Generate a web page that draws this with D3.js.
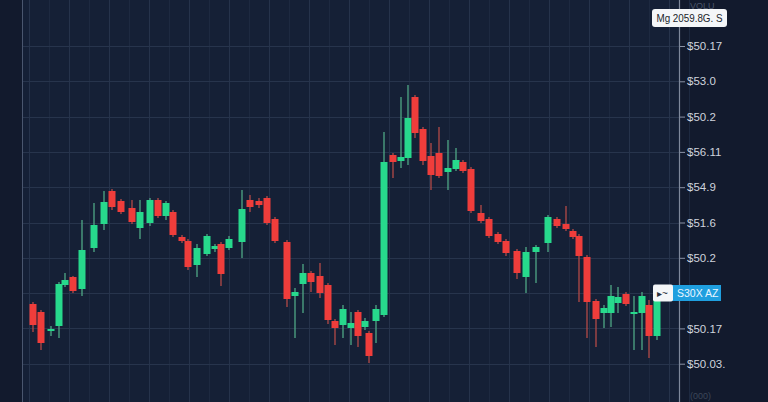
<!DOCTYPE html>
<html><head><meta charset="utf-8">
<script src="https://cdn.jsdelivr.net/npm/d3@7"></script>
<style>
html,body{margin:0;padding:0;background:#121a2d;overflow:hidden;}
svg{display:block;}
</style></head>
<body>
<script>
// ---- data ----
const times = [0,4,9,13,16,20,24.5,30.5,35.5,39.5,44,49.5,53.5,58.5,62.5,66.5,70,74.5,77.5,82,87,91,94,98,104.5,108.5,113,117,121,127,131,135,139,143.5,147.5,151,155,159,162.5,166,168,171.5,175.5,180,184,187.5,191,195,199,203,207.5,211.5,215,219,224,228,232.5,236.5,242,246.5,251.5,257.5,262,266.5,270,273,277,281.5,285.5,289,292.5,296.5,300.5,304.5,308,312];
const opens = [54.80,54.40,53.45,53.70,55.75,56.15,55.55,57.60,58.80,60.45,59.95,59.60,58.60,58.85,60.00,59.20,59.40,58.15,57.95,56.75,57.30,57.55,57.80,57.60,57.90,60.00,59.95,60.10,59.05,57.90,55.20,55.80,56.35,56.20,55.75,53.95,53.75,53.60,54.40,53.65,53.35,53.95,54.25,62.25,61.95,62.10,65.15,63.55,62.20,62.35,61.40,61.55,61.90,61.55,59.35,59.05,58.30,57.95,57.45,56.15,57.40,57.85,59.05,58.80,58.45,58.20,57.15,54.95,54.35,54.35,54.85,55.30,54.35,54.35,54.75,53.20];
const closes = [53.75,52.85,53.55,55.80,56.00,55.45,57.50,58.75,59.90,59.65,59.40,58.90,59.40,60.00,59.20,59.85,58.25,57.95,56.65,57.60,58.20,57.70,56.30,58.05,59.55,59.65,59.75,58.85,57.95,55.05,55.40,56.35,55.90,55.35,54.00,53.60,54.55,53.85,53.20,53.95,52.20,54.55,61.90,61.90,62.15,64.10,63.35,61.95,61.25,61.20,61.60,62.00,61.45,59.45,58.95,58.20,57.90,57.35,56.35,57.40,57.65,59.15,58.70,58.55,58.15,57.20,54.90,54.05,54.60,55.20,55.15,54.80,54.40,55.20,53.20,55.25];
const highs = [54.90,54.50,53.70,55.90,56.35,56.20,59.00,59.85,60.45,60.55,60.05,60.00,60.00,60.10,60.10,59.95,59.50,58.25,58.05,57.80,58.30,57.80,57.90,58.20,60.50,60.25,60.10,60.20,59.15,58.00,55.60,56.80,56.45,56.85,55.85,54.05,54.75,54.40,54.50,54.10,53.45,54.75,63.40,62.35,65.15,65.75,65.25,63.65,62.85,63.65,63.00,62.60,62.00,61.65,59.75,59.15,58.40,58.05,57.55,57.65,57.75,59.25,59.15,59.70,58.55,58.30,57.25,55.05,54.75,55.75,55.65,55.40,55.20,55.40,55.00,55.50];
const lows = [53.40,52.50,53.20,53.10,55.65,55.35,55.20,57.40,58.50,59.50,59.30,58.80,58.05,58.70,59.10,59.00,58.15,57.85,56.50,56.15,57.20,57.40,55.70,57.50,57.10,59.40,59.60,58.75,57.85,54.65,53.10,54.35,55.40,55.10,53.80,52.75,53.10,52.75,52.65,53.50,51.85,52.85,54.15,61.10,61.60,61.75,63.10,61.75,60.50,61.10,60.50,61.45,61.35,59.35,58.85,58.10,57.80,57.20,56.05,55.35,55.85,57.40,58.60,58.45,58.05,54.90,53.10,52.65,53.60,53.65,54.35,54.70,52.50,52.50,52.10,53.00];

const tickValues = [67.70,65.935,64.17,62.405,60.64,58.875,57.11,55.345,53.58,51.815];
// the label at the 8th tick is hidden behind the last-price badge in the picture
const tickLabels = ["$50.17","$53.0","$50.2","$56.11","$54.9","$51.6","$50.2","","$50.17","$50.03."];

const topBadgeText = "Mg  2059.8G. S";
const lastBadgeText = "S30X  AZ";
const lastBadgeValue = 55.35;
const axisTitle = "VOLU";
const axisFooter = "(000)";

// ---- drawing ----
const W = 768, H = 402;
const plotLeft = 22, axisX = 679;
const svg = d3.select("body").append("svg").attr("width", W).attr("height", H);

const x = d3.scaleLinear().domain([0, 312]).range([33, 657]);
const y = d3.scaleLinear().domain([50, 70]).range([400, 0]);

svg.append("rect").attr("x",0).attr("y",0).attr("width",W).attr("height",H).attr("fill","#121a2d");
svg.append("rect").attr("x",plotLeft).attr("y",0).attr("width",axisX-plotLeft).attr("height",H).attr("fill","#152036");

// vertical grid
const gMinor = d3.range(-2, 330, 10);
svg.append("g").selectAll("line").data(gMinor).join("line")
  .attr("x1", d=>x(d)).attr("x2", d=>x(d)).attr("y1",0).attr("y2",H)
  .attr("stroke", (d,i)=> i%2===0 ? "#26334b" : "#1d2940").attr("stroke-width",1)
  .attr("shape-rendering","crispEdges");

// horizontal grid
svg.append("g").selectAll("line").data(tickValues).join("line")
  .attr("x1", plotLeft).attr("x2", axisX).attr("y1", d=>Math.round(y(d))+0.5).attr("y2", d=>Math.round(y(d))+0.5)
  .attr("stroke","#27344c").attr("stroke-width",1);

// left border
svg.append("line").attr("x1",plotLeft+0.5).attr("x2",plotLeft+0.5).attr("y1",0).attr("y2",H)
  .attr("stroke","#4a566e").attr("stroke-width",1);

// candles
const data = times.map((t,i)=>({t, o:opens[i], c:closes[i], h:highs[i], l:lows[i]}));
const up = "#27d98c", down = "#ef3d3b";
const bw = 7;
const cg = svg.append("g");
cg.selectAll("line.wick").data(data).join("line").attr("class","wick")
  .attr("x1", d=>x(d.t)).attr("x2", d=>x(d.t))
  .attr("y1", d=>y(d.h)).attr("y2", d=>y(d.l))
  .attr("stroke", d=> d.c>=d.o ? "#4fa886" : "#b44a48").attr("stroke-width",1.3);
cg.selectAll("rect.body").data(data).join("rect").attr("class","body")
  .attr("x", d=>x(d.t)-bw/2).attr("width", bw)
  .attr("y", d=>y(Math.max(d.o,d.c)))
  .attr("height", d=>Math.max(2, Math.abs(y(d.o)-y(d.c))))
  .attr("fill", d=> d.c>=d.o ? up : down);

// right axis
const axis = d3.axisRight(y).tickValues(tickValues).tickSize(6).tickPadding(2)
  .tickFormat((d,i)=>tickLabels[i]);
const ag = svg.append("g").attr("transform",`translate(${axisX},0)`).call(axis);
ag.select(".domain").remove();
ag.selectAll(".tick line").attr("stroke","#8a93a6");
ag.selectAll(".tick text").attr("fill","#cfd4dd").attr("font-family","Liberation Sans, Arial, sans-serif").attr("font-size",11.5);
svg.append("line").attr("x1",axisX+0.5).attr("x2",axisX+0.5).attr("y1",0).attr("y2",H)
  .attr("stroke","#7e889b").attr("stroke-width",1.2);

// faint axis title/footer
svg.append("text").attr("x",690).attr("y",9).attr("fill","#4b556a").attr("font-family","Liberation Sans, Arial, sans-serif").attr("font-size",9).text(axisTitle);
svg.append("text").attr("x",690).attr("y",399).attr("fill","#3c4659").attr("font-family","Liberation Sans, Arial, sans-serif").attr("font-size",9).text(axisFooter);

// top badge
const tb = svg.append("g");
tb.append("rect").attr("x",652).attr("y",9).attr("width",75).attr("height",18).attr("rx",3).attr("fill","#f4f6f8");
tb.append("text").attr("x",689.5).attr("y",22).attr("text-anchor","middle").attr("fill","#1a1f2b")
  .attr("font-family","Liberation Sans, Arial, sans-serif").attr("font-size",10.5)
  .attr("textLength",66).attr("lengthAdjust","spacingAndGlyphs").text(topBadgeText);

// last-price badge
const ly = y(lastBadgeValue);
const lb = svg.append("g");
lb.append("rect").attr("x",672).attr("y",ly-8).attr("width",49).attr("height",16).attr("fill","#1f9fdf");
lb.append("rect").attr("x",653).attr("y",ly-8.5).attr("width",20).attr("height",17).attr("rx",2).attr("fill","#f4f6f8");
lb.append("text").attr("x",657).attr("y",ly+4).attr("fill","#2a2f3a").attr("font-family","Liberation Sans, Arial, sans-serif").attr("font-size",10).text("▸~");
lb.append("text").attr("x",677).attr("y",ly+4).attr("fill","#eaf6ff").attr("font-family","Liberation Sans, Arial, sans-serif").attr("font-size",10.5).text(lastBadgeText);
</script>
</body></html>
